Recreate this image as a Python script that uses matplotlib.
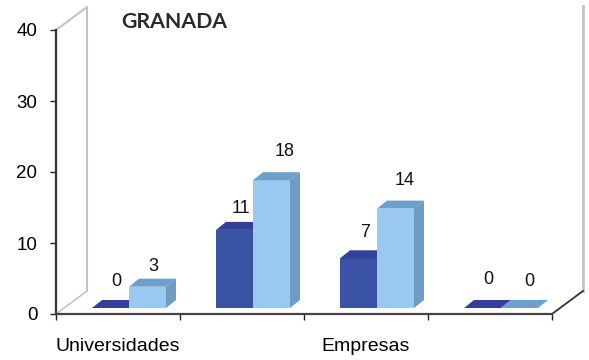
import matplotlib
matplotlib.use("Agg")
import matplotlib.pyplot as plt
from matplotlib.patches import Polygon

categories = ["Universidades", "", "Empresas", ""]
dark_vals = [0, 11, 7, 0]
light_vals = [3, 18, 14, 0]
y_ticks = [0, 10, 20, 30, 40]
# nudges for the value labels, pixels from the bar front centre / top
dark_nudge = [(6, 27), (6, 21), (7, 26), (6, 29)]
light_nudge = [(6, 20), (13, 29), (9, 28), (10, 27)]

plt.rcParams['font.family'] = ['Liberation Sans', 'DejaVu Sans']

W, H = 589, 360
fig = plt.figure(figsize=(W / 100, H / 100), dpi=100)
ax = fig.add_axes([56 / W, 1 - 314 / H, (552 - 56) / W, (314 - 30) / H])
ax.set_xlim(0, 4)
ax.set_ylim(0, 40)

px_x = 4 / 496
px_y = 40 / 284


def box(x0, w, val, front, side, top):
    dx = 10 * px_x
    dy = 8 * px_y
    base = 6 * px_y
    t = base + val
    if val > 0:
        ax.add_patch(Polygon([(x0 + w, base), (x0 + w + dx, base + dy), (x0 + w + dx, t + dy), (x0 + w, t)],
                             fc=side, ec="none", clip_on=False, zorder=3))
        ax.add_patch(Polygon([(x0, base), (x0 + w, base), (x0 + w, t), (x0, t)],
                             fc=front, ec="none", clip_on=False, zorder=3))
    ax.add_patch(Polygon([(x0, t), (x0 + w, t), (x0 + w + dx, t + dy), (x0 + dx, t + dy)],
                         fc=top, ec="none", clip_on=False, zorder=3))
    return x0 + w / 2, t


# walls
wall_dx = 31 * px_x
wall_dy = 23 * px_y
ax.plot([0, wall_dx, wall_dx], [40, 40 + wall_dy, wall_dy], c="#c4c4c4", lw=1.5, clip_on=False, zorder=1)
ax.plot([0, wall_dx], [0, wall_dy], c="#c4c4c4", lw=1.2, clip_on=False, zorder=1)
ax.plot([4 + wall_dx, 4 + wall_dx], [wall_dy, 43.4], c="#c4c4c4", lw=2, clip_on=False, zorder=1)
ax.plot([4, 4 + wall_dx], [0, wall_dy], c="#333333", lw=1.3, clip_on=False, zorder=1)

bar_w = 37 * px_x
for i in range(len(categories)):
    x_dark = i + 36 * px_x
    # light bar goes second so it sits over the dark bar's side
    cx, t = box(x_dark, bar_w, dark_vals[i], "#3a53a4", "#33409a", "#33409a")
    ax.annotate(str(dark_vals[i]), (cx, t), xytext=(dark_nudge[i][0] * 0.72, dark_nudge[i][1] * 0.72),
                textcoords="offset points", ha="center", va="center", fontsize=13, color="#111111",
                annotation_clip=False, zorder=5)
    cx, t = box(x_dark + bar_w, bar_w, light_vals[i], "#99c9ee", "#6f9cc3", "#6c9fcb")
    ax.annotate(str(light_vals[i]), (cx, t), xytext=(light_nudge[i][0] * 0.72, light_nudge[i][1] * 0.72),
                textcoords="offset points", ha="center", va="center", fontsize=13, color="#111111",
                annotation_clip=False, zorder=5)

for s in ["top", "right"]:
    ax.spines[s].set_visible(False)
ax.spines["left"].set_color("#333333")
ax.spines["left"].set_linewidth(1.6)
ax.spines["bottom"].set_color("#444444")
ax.spines["bottom"].set_linewidth(1.6)

ax.set_yticks(y_ticks)
ax.set_yticklabels([str(v) for v in y_ticks], va="center_baseline")
ax.set_xticks(range(5))
ax.set_xticklabels([])
ax.set_xticks([i + 0.5 for i in range(4)], minor=True)
ax.set_xticklabels(categories, minor=True)
ax.tick_params(axis="x", which="minor", length=0, pad=17, labelsize=14)
ax.tick_params(axis="x", which="major", direction="out", length=4, width=1, color="#222222")
ax.tick_params(axis="y", direction="out", length=4, width=1, color="#222222", pad=9.5, labelsize=13.5)

fig.text(174.5 / W, 1 - 22.5 / H, "GRANADA", family=["Lato", "DejaVu Sans"], weight="bold", fontsize=15.3,
         color="#2a2a2a", ha="center", va="center")

fig.savefig("out.png", dpi=100)
